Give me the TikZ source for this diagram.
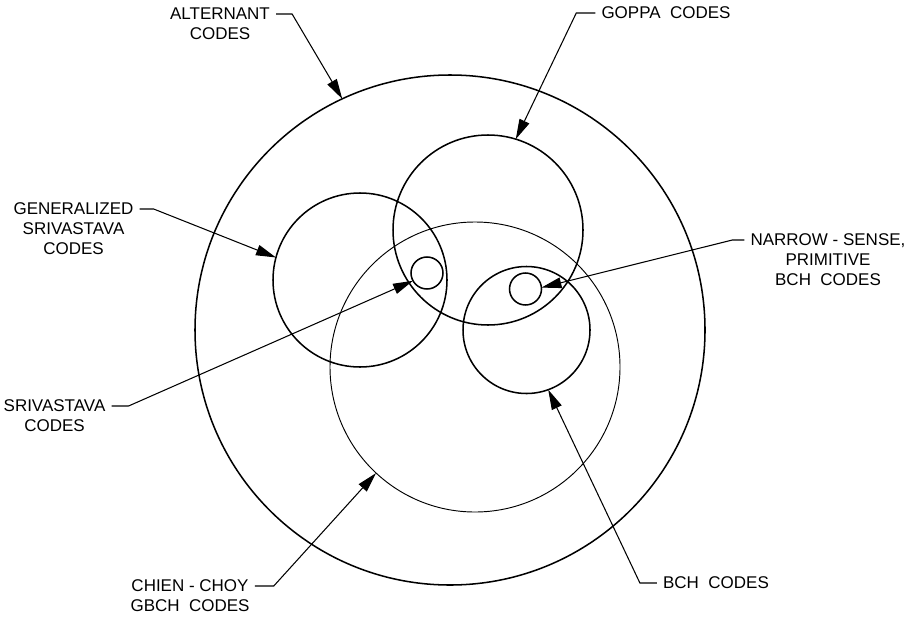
\documentclass[tikz,border=0pt]{standalone}
\usepackage{fontspec}
\setmainfont{Liberation Sans}
\usetikzlibrary{arrows.meta, positioning}

\begin{document}
\begin{tikzpicture}[x=0.03cm, y=-0.03cm,
    ring/.style={circle, draw, line width=1.3pt, inner sep=0pt, outer sep=0pt, minimum size=#1*0.06cm},
    thinring/.style={ring=#1, line width=0.8pt},
    lbl/.style={inner xsep=0.18cm, inner ysep=0pt, text height=10pt, text depth=0pt, font=\fontsize{14.5}{17}\selectfont},
    lead/.style={line width=0.9pt, -{Triangle[length=0.6cm, width=0.32cm]}}]

    \useasboundingbox (0,0) rectangle (907,616);

    % Circles
    \node[ring=255] (alternant) at (450,330) {};
    \node[ring=95] (goppa) at (488,230) {};
    \node[ring=87] (gsriv) at (360,280) {};
    \node[thinring=145] (chien) at (475,367) {};
    \node[ring=63.5] (bch) at (526.5,330) {};
    \node[ring=16] (sriv) at (427,273) {};
    \node[ring=16] (narrow) at (525.5,289) {};

    % Labels
    \node[lbl] (altA) at (220,14) {ALTERNANT};
    \node[lbl, below=6.6pt of altA] (altB) {CODES};

    \node[lbl] (goppaA) at (666,13) {GOPPA\ \ CODES};

    \node[lbl] (gsrivA) at (73.5,209) {GENERALIZED};
    \node[lbl, below=6.6pt of gsrivA] (gsrivB) {SRIVASTAVA};
    \node[lbl, below=6.6pt of gsrivB] (gsrivC) {CODES};

    \node[lbl] (srivA) at (54.5,406) {SRIVASTAVA};
    \node[lbl, below=6.6pt of srivA] (srivB) {CODES};

    \node[lbl] (chienA) at (190,586) {CHIEN - CHOY};
    \node[lbl, below=6.6pt of chienA] (chienB) {GBCH\ \ CODES};

    \node[lbl] (bchA) at (716,583) {BCH\ \ CODES};

    \node[lbl] (narrowA) at (828,240) {NARROW - SENSE,};
    \node[lbl, below=6.6pt of narrowA] (narrowB) {PRIMITIVE};
    \node[lbl, below=6.6pt of narrowB] (narrowC) {BCH\ \ CODES};

    % Leaders
    \draw[lead] (altA.east) -- ++(16,0) -- (alternant.115);
    \draw[lead] (goppaA.west) -- ++(-19,0) -- (goppa.73);
    \draw[lead] (gsrivA.east) -- ++(14,0) -- (gsriv.165);
    \draw[lead] (srivA.east) -- ++(17,0) -- (sriv.209);
    \draw[lead] (chienA.east) -- ++(19,0) -- (chien.227);
    \draw[lead] (bchA.west) -- ++(-17,0) -- (bch.290);
    \draw[lead] (narrowA.west) -- ++(-12,0) -- (narrow.5);

\end{tikzpicture}
\end{document}
